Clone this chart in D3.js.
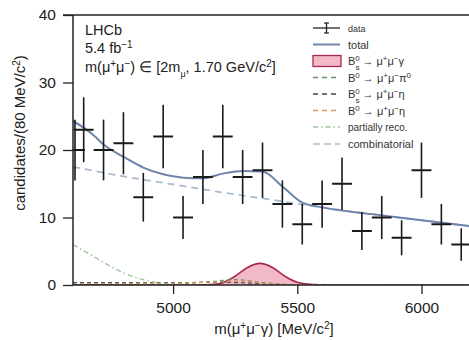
<!DOCTYPE html>
<html><head><meta charset="utf-8">
<script src="https://cdn.jsdelivr.net/npm/d3@7"></script>
<style>
html,body{margin:0;padding:0;background:#fff;}
svg{display:block;font-family:"Liberation Sans",Arial,Helvetica,sans-serif;}
</style></head>
<body><svg id="c" width="469" height="340"></svg>
<script>
// ---- data ----
const dataMass  = [4605,4640,4720,4800,4880,4960,5040,5120,5200,5280,5360,5440,5520,5600,5680,5760,5840,5920,6000,6080,6160];
const dataCount = [20,23,20,21,13,22,10,16,22,16,17,12,9,12,15,8,10,7,17,9,6];
const dataErr   = [4.5,4.8,4.5,4.6,3.6,4.7,3.2,4.0,4.7,4.0,4.1,3.5,3.0,3.5,3.9,2.8,3.2,2.6,4.1,3.0,2.4];
const binWidth = 80;

const totalMass = [4597,4680,4720,4800,4880,4960,5040,5120,5200,5280,5360,5440,5520,5600,5800,6000,6200,6300];
const totalVal  = [24.3,22.2,20.8,19.0,17.4,16.4,15.9,15.8,16.5,16.9,16.8,14.6,12.2,11.5,10.5,9.6,8.7,8.3];

const combMass = [4597,4800,5000,5200,5400,5600,5800,6000,6200,6300];
const combVal  = [17.5,16.1,14.9,13.7,12.6,11.5,10.5,9.6,8.7,8.3];

const partMass = [4597,4700,4800,4900,5000,5100];
const partVal  = [6.0,3.8,1.8,0.6,0.1,0.0];

const sigMass = [4597,5100,5150,5200,5250,5300,5350,5400,5450,5500,5550,5600,5650,6300];
const sigVal  = [0,0,0.05,0.35,1.3,2.6,3.2,2.6,1.3,0.4,0.12,0.03,0,0];

const pi0Mass = [4597,5000,5150,5250,5350,5450,5550,6300];
const pi0Val  = [0.1,0.2,0.5,0.8,0.4,0.1,0,0];
const bsEtaMass = [4597,5000,5200,5300,5400,5500,6300];
const bsEtaVal  = [0.35,0.35,0.4,0.3,0.1,0,0];
const bdEtaMass = [4597,5000,5200,5280,5380,5500,6300];
const bdEtaVal  = [0.2,0.25,0.5,0.6,0.2,0,0];

const xTicks = [5000,5500,6000];
const yTicks = [0,10,20,30,40];

// ---- drawing ----
const svg = d3.select("#c");
const L=73, R=496, T=15, B=285;
const x = d3.scaleLinear().domain([4597,6300]).range([L,R]);
const y = d3.scaleLinear().domain([0,40]).range([B,T]);

svg.append("defs").append("clipPath").attr("id","clip")
  .append("rect").attr("x",L).attr("y",T).attr("width",R-L).attr("height",B-T);
const plot = svg.append("g").attr("clip-path","url(#clip)");

const lineGen = (ms,vs,curve)=> d3.line().x((d,i)=>x(ms[i])).y((d,i)=>y(vs[i])).curve(curve||d3.curveMonotoneX)(vs);

// signal fill
const areaGen = d3.area().x((d,i)=>x(sigMass[i])).y0(y(0)).y1((d,i)=>y(sigVal[i])).curve(d3.curveMonotoneX);
plot.append("path").attr("d",areaGen(sigVal)).attr("fill","#f2b9c7").attr("stroke","none");
plot.append("path").attr("d",lineGen(sigMass,sigVal)).attr("fill","none").attr("stroke","#a8294f").attr("stroke-width",1.6);

// small components
plot.append("path").attr("d",lineGen(bsEtaMass,bsEtaVal)).attr("fill","none").attr("stroke","#555").attr("stroke-width",1.3).attr("stroke-dasharray","4,3");
plot.append("path").attr("d",lineGen(pi0Mass,pi0Val)).attr("fill","none").attr("stroke","#6d8f6d").attr("stroke-width",1.3).attr("stroke-dasharray","4,3");
plot.append("path").attr("d",lineGen(bdEtaMass,bdEtaVal)).attr("fill","none").attr("stroke","#d39a62").attr("stroke-width",1.3).attr("stroke-dasharray","4,3");

// partially reco
plot.append("path").attr("d",lineGen(partMass,partVal)).attr("fill","none").attr("stroke","#9cc59a").attr("stroke-width",1.4).attr("stroke-dasharray","5,3,1.5,3");
// combinatorial
plot.append("path").attr("d",lineGen(combMass,combVal)).attr("fill","none").attr("stroke","#a9bccf").attr("stroke-width",1.8).attr("stroke-dasharray","7,5");
// total
plot.append("path").attr("d",lineGen(totalMass,totalVal)).attr("fill","none").attr("stroke","#6f84ab").attr("stroke-width",2);

// data
const pts = plot.append("g").attr("stroke","#1a1a1a").attr("stroke-width",1.6);
dataMass.forEach((m,i)=>{
  pts.append("line").attr("x1",x(m)).attr("x2",x(m)).attr("y1",y(dataCount[i]-dataErr[i])).attr("y2",y(dataCount[i]+dataErr[i]));
  pts.append("line").attr("x1",x(m-binWidth/2)).attr("x2",x(m+binWidth/2)).attr("y1",y(dataCount[i])).attr("y2",y(dataCount[i])).attr("stroke-width",2);
});

// axes
const fontSize = 15.5;
const xAxis = svg.append("g").attr("transform",`translate(0,${B})`)
  .call(d3.axisBottom(x).tickValues(xTicks).tickSize(9).tickPadding(8).tickFormat(d3.format("d")));
const yAxis = svg.append("g").attr("transform",`translate(${L},0)`)
  .call(d3.axisLeft(y).tickValues(yTicks).tickSize(10).tickPadding(7));
[xAxis,yAxis].forEach(a=>{
  a.select(".domain").remove();
  a.selectAll("line").attr("stroke","#222").attr("stroke-width",1.3);
  a.selectAll("text").attr("font-size",fontSize).attr("fill","#222").attr("font-family","Liberation Sans, Arial, sans-serif");
});
// frame lines
svg.append("line").attr("x1",L).attr("x2",R).attr("y1",B).attr("y2",B).attr("stroke","#222").attr("stroke-width",1.5);
svg.append("line").attr("x1",L).attr("x2",L).attr("y1",T).attr("y2",B).attr("stroke","#222").attr("stroke-width",1.5);
svg.append("line").attr("x1",L-10).attr("x2",R).attr("y1",T).attr("y2",T).attr("stroke","#222").attr("stroke-width",1.5);

// axis titles
const xt = svg.append("text").attr("x",274).attr("y",334).attr("text-anchor","middle").attr("font-size",15).attr("fill","#222");
xt.append("tspan").text("m(μ");
xt.append("tspan").attr("baseline-shift","super").attr("font-size",10).text("+");
xt.append("tspan").text("μ");
xt.append("tspan").attr("baseline-shift","super").attr("font-size",10).text("−");
xt.append("tspan").text("γ) [MeV/c");
xt.append("tspan").attr("baseline-shift","super").attr("font-size",10).text("2");
xt.append("tspan").text("]");

const yt = svg.append("text").attr("transform","translate(25,133) rotate(-90)").attr("text-anchor","middle").attr("font-size",15).attr("fill","#222");
yt.append("tspan").text("candidates/(80 MeV/c");
yt.append("tspan").attr("baseline-shift","super").attr("font-size",10).text("2");
yt.append("tspan").text(")");

// annotations
const ann = svg.append("g").attr("font-size",14.5).attr("fill","#222");
ann.append("text").attr("x",85).attr("y",35).text("LHCb");
const a2 = ann.append("text").attr("x",85).attr("y",53);
a2.append("tspan").text("5.4 fb");
a2.append("tspan").attr("baseline-shift","super").attr("font-size",10).text("−1");
const a3 = ann.append("text").attr("x",85).attr("y",72);
a3.append("tspan").text("m(μ");
a3.append("tspan").attr("baseline-shift","super").attr("font-size",10).text("+");
a3.append("tspan").text("μ");
a3.append("tspan").attr("baseline-shift","super").attr("font-size",10).text("−");
a3.append("tspan").text(") ∈ [2m");
a3.append("tspan").attr("baseline-shift","sub").attr("font-size",9).text("μ");
a3.append("tspan").text(", 1.70 GeV/c");
a3.append("tspan").attr("baseline-shift","super").attr("font-size",10).text("2");
a3.append("tspan").text("]");

// legend
const lg = svg.append("g");
const lx0=313, lx1=340, tx=348;
const rows=[28,44.5,61,77.5,94,110.5,127,144];
const lt = (yy,parts)=>{
  const t=lg.append("text").attr("x",tx).attr("y",yy+4).attr("font-size",11).attr("fill","#333");
  parts.forEach(p=>{
    const s=t.append("tspan").text(p[0]);
    if(p[1]==="sup") s.attr("baseline-shift","super").attr("font-size",8);
    if(p[1]==="sub") s.attr("baseline-shift","sub").attr("font-size",8);
    if(p[2]) s.attr("dx",p[2]);
  });
  return t;
};
// data
lg.append("line").attr("x1",lx0).attr("x2",lx1).attr("y1",rows[0]).attr("y2",rows[0]).attr("stroke","#222").attr("stroke-width",1.3);
lg.append("line").attr("x1",(lx0+lx1)/2).attr("x2",(lx0+lx1)/2).attr("y1",rows[0]-5).attr("y2",rows[0]+5).attr("stroke","#222").attr("stroke-width",1.3);
lg.append("line").attr("x1",(lx0+lx1)/2-2.5).attr("x2",(lx0+lx1)/2+2.5).attr("y1",rows[0]-5).attr("y2",rows[0]-5).attr("stroke","#222").attr("stroke-width",1.2);
lg.append("line").attr("x1",(lx0+lx1)/2-2.5).attr("x2",(lx0+lx1)/2+2.5).attr("y1",rows[0]+5).attr("y2",rows[0]+5).attr("stroke","#222").attr("stroke-width",1.2);
lt(rows[0],[["data"]]).attr("font-size",9);
// total
lg.append("line").attr("x1",lx0).attr("x2",lx1).attr("y1",rows[1]).attr("y2",rows[1]).attr("stroke","#6f84ab").attr("stroke-width",2);
lt(rows[1],[["total"]]);
// signal
lg.append("rect").attr("x",lx0).attr("y",rows[2]-5.5).attr("width",lx1-lx0+1).attr("height",11).attr("fill","#f2b9c7").attr("stroke","#a8294f").attr("stroke-width",1.3);
lt(rows[2],[["B"],["0","sup"],["s","sub",-4.4],[" → μ"],["+","sup"],["μ"],["−","sup"],["γ"]]);
// pi0
lg.append("line").attr("x1",lx0).attr("x2",lx1).attr("y1",rows[3]).attr("y2",rows[3]).attr("stroke","#6d8f6d").attr("stroke-width",1.5).attr("stroke-dasharray","5,4");
lt(rows[3],[["B"],["0","sup"],[" → μ"],["+","sup"],["μ"],["−","sup"],["π"],["0","sup"]]);
// bs eta
lg.append("line").attr("x1",lx0).attr("x2",lx1).attr("y1",rows[4]).attr("y2",rows[4]).attr("stroke","#444").attr("stroke-width",1.5).attr("stroke-dasharray","5,4");
lt(rows[4],[["B"],["0","sup"],["s","sub",-4.4],[" → μ"],["+","sup"],["μ"],["−","sup"],["η"]]);
// bd eta
lg.append("line").attr("x1",lx0).attr("x2",lx1).attr("y1",rows[5]).attr("y2",rows[5]).attr("stroke","#d39a62").attr("stroke-width",1.5).attr("stroke-dasharray","5,4");
lt(rows[5],[["B"],["0","sup"],[" → μ"],["+","sup"],["μ"],["−","sup"],["η"]]);
// partially reco
lg.append("line").attr("x1",lx0).attr("x2",lx1).attr("y1",rows[6]).attr("y2",rows[6]).attr("stroke","#9cc59a").attr("stroke-width",1.4).attr("stroke-dasharray","5,3,1.5,3");
lt(rows[6],[["partially reco."]]).attr("font-size",10);
// combinatorial
lg.append("line").attr("x1",lx0).attr("x2",lx1).attr("y1",rows[7]).attr("y2",rows[7]).attr("stroke","#a9bccf").attr("stroke-width",1.6).attr("stroke-dasharray","7,4");
lt(rows[7],[["combinatorial"]]);
</script></body></html>
